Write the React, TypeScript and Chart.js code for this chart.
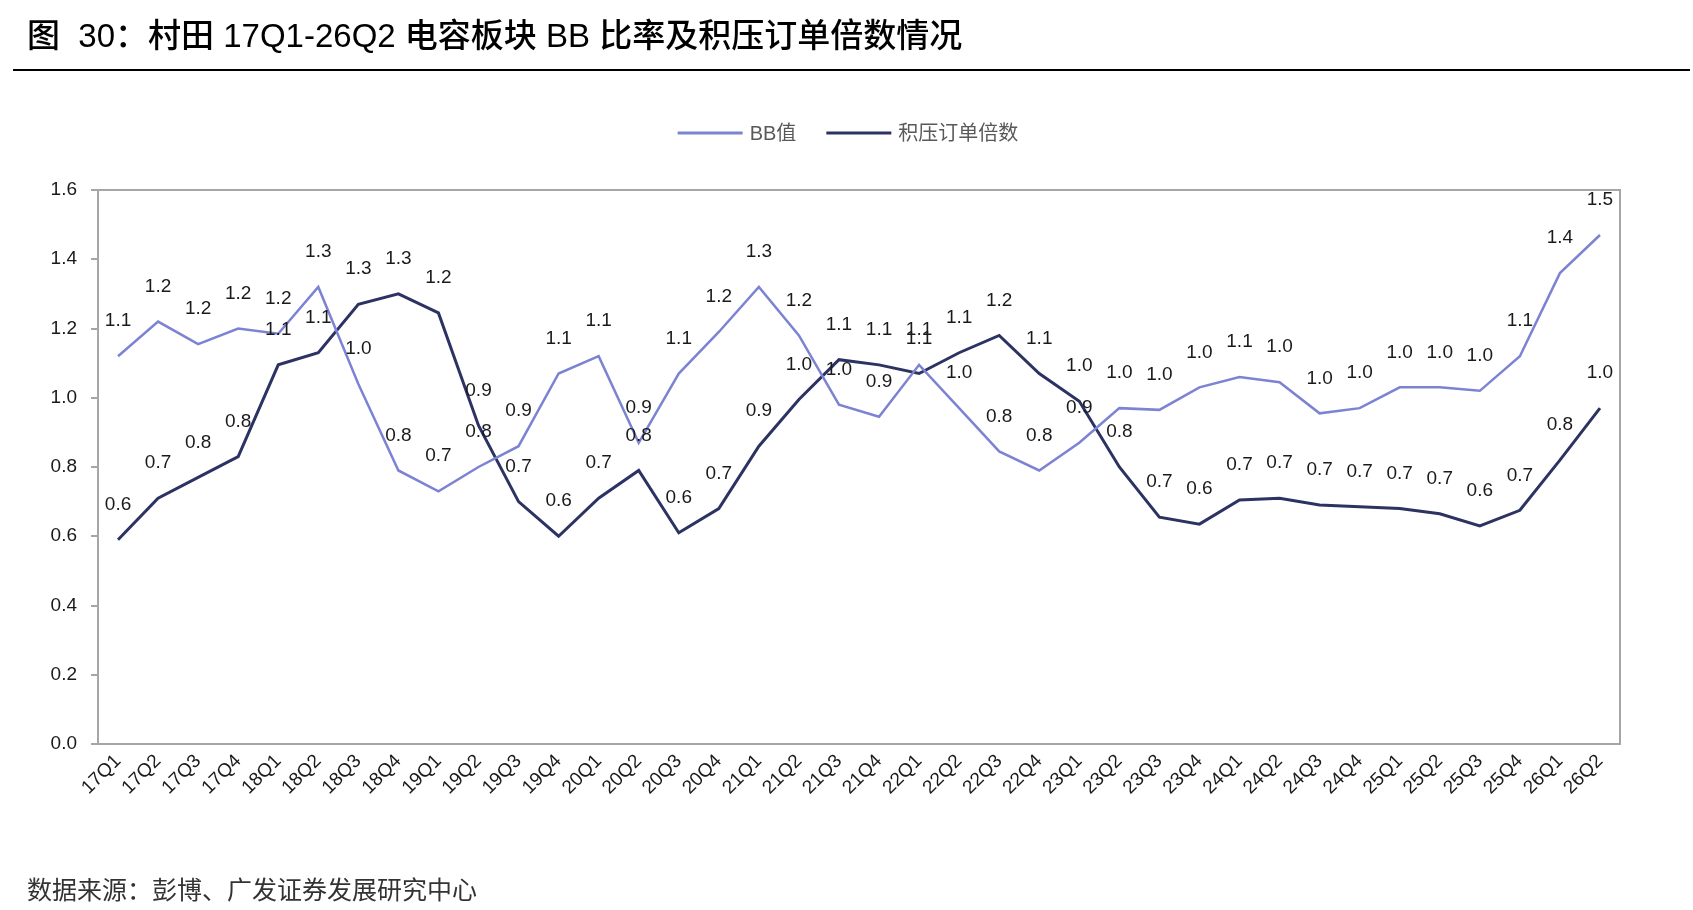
import React, { useEffect, useRef } from "react";
import { Chart, registerables } from "chart.js";

Chart.register(...registerables);

const categories = [
  "17Q1", "17Q2", "17Q3", "17Q4", "18Q1", "18Q2", "18Q3", "18Q4",
  "19Q1", "19Q2", "19Q3", "19Q4", "20Q1", "20Q2", "20Q3", "20Q4",
  "21Q1", "21Q2", "21Q3", "21Q4", "22Q1", "22Q2", "22Q3", "22Q4",
  "23Q1", "23Q2", "23Q3", "23Q4", "24Q1", "24Q2", "24Q3", "24Q4",
  "25Q1", "25Q2", "25Q3", "25Q4", "26Q1", "26Q2",
];

const bbValues = [
  1.12, 1.22, 1.155, 1.2, 1.185, 1.32, 1.04, 0.79,
  0.73, 0.8, 0.86, 1.07, 1.12, 0.87, 1.07, 1.19,
  1.32, 1.18, 0.98, 0.945, 1.095, 0.97, 0.845, 0.79,
  0.87, 0.97, 0.965, 1.03, 1.06, 1.045, 0.955, 0.97,
  1.03, 1.03, 1.02, 1.12, 1.36, 1.47,
];

const backlogValues = [
  0.59, 0.71, 0.77, 0.83, 1.095, 1.13, 1.27, 1.3,
  1.245, 0.92, 0.7, 0.6, 0.71, 0.79, 0.61, 0.68,
  0.86, 0.995, 1.11, 1.095, 1.07, 1.13, 1.18, 1.07,
  0.99, 0.8, 0.655, 0.635, 0.705, 0.71, 0.69, 0.685,
  0.68, 0.665, 0.63, 0.675, 0.82, 0.97,
];

const seriesNames = ["BB值", "积压订单倍数"];
const seriesColors = ["#7c83d2", "#2c3363"];
const yTicks = [0, 0.2, 0.4, 0.6, 0.8, 1.0, 1.2, 1.4, 1.6];

const FONT = "'Liberation Sans', Arial, 'Noto Sans CJK SC', sans-serif";

const frameAndLabels = {
  id: "frameAndLabels",
  beforeDatasetsDraw(chart: any) {
    const { ctx, chartArea } = chart;
    ctx.save();
    ctx.strokeStyle = "#a6a6a6";
    ctx.lineWidth = 2;
    ctx.strokeRect(chartArea.left, chartArea.top, chartArea.right - chartArea.left, chartArea.bottom - chartArea.top);
    ctx.restore();
  },
  afterDatasetsDraw(chart: any) {
    const { ctx } = chart;
    ctx.save();
    ctx.font = `19px ${FONT}`;
    ctx.fillStyle = "#1a1a1a";
    ctx.textAlign = "center";
    ctx.textBaseline = "middle";
    chart.data.datasets.forEach((ds: any, i: number) => {
      const meta = chart.getDatasetMeta(i);
      meta.data.forEach((pt: any, j: number) => {
        const v = ds.data[j] as number;
        ctx.fillText(v.toFixed(1), pt.x, pt.y - 35);
      });
    });
    // legend
    ctx.font = `20px ${FONT}`;
    ctx.textAlign = "left";
    const lineLen = 65;
    const gap = 7;
    const itemGap = 30;
    const widths = chart.data.datasets.map((ds: any) => lineLen + gap + ctx.measureText(ds.label).width);
    const total = widths.reduce((a: number, b: number) => a + b, 0) + itemGap * (widths.length - 1);
    let x = 848 - total / 2;
    const y = 133;
    chart.data.datasets.forEach((ds: any, i: number) => {
      ctx.strokeStyle = ds.borderColor;
      ctx.lineWidth = 3;
      ctx.beginPath();
      ctx.moveTo(x, y);
      ctx.lineTo(x + lineLen, y);
      ctx.stroke();
      ctx.fillStyle = "#595959";
      ctx.fillText(ds.label, x + lineLen + gap, y + 1);
      x += widths[i] + itemGap;
    });
    ctx.restore();
  },
};

export default function App() {
  const ref = useRef<HTMLCanvasElement>(null);
  useEffect(() => {
    if (!ref.current) return;
    const chart = new Chart(ref.current, {
      type: "line",
      data: {
        labels: categories,
        datasets: [
          {
            label: seriesNames[0],
            data: bbValues,
            borderColor: seriesColors[0],
            backgroundColor: seriesColors[0],
            borderWidth: 2.5,
            pointRadius: 0,
            tension: 0,
          },
          {
            label: seriesNames[1],
            data: backlogValues,
            borderColor: seriesColors[1],
            backgroundColor: seriesColors[1],
            borderWidth: 3,
            pointRadius: 0,
            tension: 0,
          },
        ],
      },
      options: {
        animation: false,
        responsive: false,
        maintainAspectRatio: false,
        layout: { padding: { top: 190, right: 73, left: 0, bottom: 0 } },
        plugins: {
          legend: { display: false },
          tooltip: { enabled: false },
          title: { display: false },
        },
        scales: {
          x: {
            type: "category",
            offset: true,
            grid: { display: false, drawTicks: false },
            border: { display: true, color: "#a6a6a6", width: 2 },
            ticks: {
              maxRotation: 45,
              minRotation: 45,
              autoSkip: false,
              padding: 6,
              color: "#1a1a1a",
              font: { family: FONT, size: 19 },
            },
            afterFit: (s: any) => {
              s.height = 166;
            },
          },
          y: {
            min: 0,
            max: 1.6,
            afterBuildTicks: (s: any) => {
              s.ticks = yTicks.map((v) => ({ value: v }));
            },
            grid: {
              display: true,
              drawOnChartArea: false,
              drawTicks: true,
              tickLength: 7,
              color: "#a6a6a6",
              lineWidth: 2,
            },
            border: { display: true, color: "#a6a6a6", width: 2 },
            ticks: {
              padding: 14,
              color: "#1a1a1a",
              font: { family: FONT, size: 19 },
              callback: (v: any) => Number(v).toFixed(1),
            },
            afterFit: (s: any) => {
              s.width = 98;
            },
          },
        },
      },
      plugins: [frameAndLabels],
    });
    return () => chart.destroy();
  }, []);

  return (
    <div style={{ position: "absolute", left: 0, top: 0, width: 1693, height: 910, background: "#fff", overflow: "hidden" }}>
      <canvas ref={ref} width={1693} height={910} style={{ position: "absolute", left: 0, top: 0, width: 1693, height: 910 }} />
      <div
        style={{
          position: "absolute",
          left: 27,
          top: 14,
          fontFamily: FONT,
          fontSize: 33,
          fontWeight: 500,
          color: "#000",
          whiteSpace: "nowrap",
          lineHeight: "44px",
        }}
      >
        图&nbsp; 30：村田 17Q1-26Q2 电容板块 BB 比率及积压订单倍数情况
      </div>
      <div style={{ position: "absolute", left: 13, top: 69, width: 1677, height: 2, background: "#000" }} />
      <div
        style={{
          position: "absolute",
          left: 27,
          top: 873,
          fontFamily: FONT,
          fontSize: 25,
          color: "#333",
          whiteSpace: "nowrap",
          lineHeight: "34px",
        }}
      >
        数据来源：彭博、广发证券发展研究中心
      </div>
    </div>
  );
}
